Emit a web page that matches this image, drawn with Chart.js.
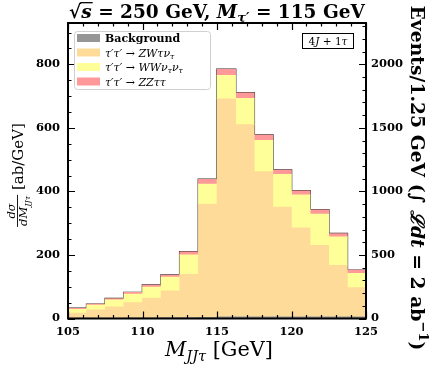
<!DOCTYPE html>
<html>
<head>
<meta charset="utf-8">
<script src="https://cdn.jsdelivr.net/npm/chart.js@4.4.0/dist/chart.umd.min.js"></script>
<style>
  html, body { margin: 0; padding: 0; background: #fff; }
</style>
</head>
<body>
<canvas id="chart" width="436" height="367"></canvas>
<script>
// bin edges of M_JJtau [GeV], 1.25 GeV bins
const binEdges = [105, 106.25, 107.5, 108.75, 110, 111.25, 112.5, 113.75, 115,
                  116.25, 117.5, 118.75, 120, 121.25, 122.5, 123.75, 125]

// dsigma/dM [ab/GeV], stacked bottom to top
const background = [1, 1, 1, 2, 2, 3, 3, 4, 5, 5, 5, 5, 5, 5, 5, 5]
const zwTauNu    = [16, 26, 36, 48, 62, 84, 136, 356, 686, 605, 457, 346, 280, 225, 162, 92]
const wwNuNu     = [12, 15, 22, 27, 35, 43, 61, 63, 74, 83, 99, 103, 104, 99, 90, 45]
const zzTauTau   = [3, 3, 4, 5, 6, 7, 10, 15, 19, 17, 16, 13, 13, 13, 10, 10]

const xTicks = [105, 110, 115, 120, 125]
const yTicks = [0, 200, 400, 600, 800]
const eventTicks = [0, 500, 1000, 1500, 2000]
const yMax = 930
const eventsPerAb = 2.5   // 2 ab^-1 * 1.25 GeV

const WIDE = '"DejaVu Serif", serif'
const tickFont = { family: WIDE, size: 11.5, weight: 'bold' }

const centers = binEdges.slice(0, -1).map((e, i) => (e + binEdges[i + 1]) / 2)
const asPoints = arr => arr.map((v, i) => ({ x: centers[i], y: v }))
const totals = background.map((b, i) => b + zwTauNu[i] + wwNuNu[i] + zzTauTau[i])
const outline = binEdges.map((e, i) => ({ x: e, y: totals[Math.min(i, totals.length - 1)] }))

// ---- small helper to draw text runs with sub/superscripts ----
function runFont(r, size, fam) {
  const s = (r.sub || r.sup) ? size * 0.7 : size
  return (r.i ? 'italic ' : '') + (r.b ? 'bold ' : '') + s.toFixed(2) + 'px ' + fam
}
function runsWidth(ctx, runs, size, fam) {
  let w = 0
  runs.forEach(r => { ctx.font = runFont(r, size, fam); w += ctx.measureText(r.t).width })
  return w
}
function drawRuns(ctx, runs, x, y, size, align, fam) {
  const w = runsWidth(ctx, runs, size, fam)
  let cx = align === 'center' ? x - w / 2 : align === 'right' ? x - w : x
  ctx.textAlign = 'left'
  ctx.textBaseline = 'alphabetic'
  runs.forEach(r => {
    ctx.font = runFont(r, size, fam)
    const dy = r.sub ? size * 0.22 : r.sup ? -size * 0.42 : 0
    const rw = ctx.measureText(r.t).width
    ctx.fillText(r.t, cx, y + dy)
    if (r.over) {
      ctx.lineWidth = size * 0.07
      ctx.beginPath()
      ctx.moveTo(cx - 1, y - size * 0.8)
      ctx.lineTo(cx + rw + 1, y - size * 0.8)
      ctx.stroke()
    }
    cx += rw
  })
  return w
}
function fitSize(ctx, runs, base, width, fam) {
  return base * width / runsWidth(ctx, runs, base, fam)
}

const titleRuns = [
  { t: '√', b: 1 }, { t: 's', b: 1, i: 1, over: 1 }, { t: ' = 250 GeV, ', b: 1 },
  { t: 'M', b: 1, i: 1 }, { t: 'τ′', b: 1, i: 1, sub: 1 }, { t: ' = 115 GeV', b: 1 }
]
const xLabelRuns = [{ t: 'M', i: 1 }, { t: 'JJτ', i: 1, sub: 1 }, { t: ' [GeV]' }]
const rightLabelRuns = [
  { t: 'Events/1.25 GeV (', b: 1 }, { t: '∫ ', b: 1 }, { t: 'ℒdt', b: 1, i: 1 },
  { t: ' = 2 ab', b: 1 }, { t: '−1', b: 1, sup: 1 }, { t: ')', b: 1 }
]
const legendItems = [
  { color: '#969696', runs: [{ t: 'Background', b: 1 }] },
  { color: '#ffdb99', runs: [{ t: "τ′τ′", i: 1 }, { t: ' → ' }, { t: 'ZWτν', i: 1 }, { t: 'τ', i: 1, sub: 1 }] },
  { color: '#ffff99', runs: [{ t: "τ′τ′", i: 1 }, { t: ' → ' }, { t: 'WWν', i: 1 }, { t: 'τ', i: 1, sub: 1 }, { t: 'ν', i: 1 }, { t: 'τ', i: 1, sub: 1 }] },
  { color: '#ff9999', runs: [{ t: "τ′τ′", i: 1 }, { t: ' → ' }, { t: 'ZZττ', i: 1 }] }
]

const decorations = {
  id: 'decorations',
  afterDraw(chart) {
    const { ctx, chartArea: a, scales } = chart
    const x = scales.x, y = scales.y, y2 = scales.y2
    ctx.save()
    ctx.fillStyle = '#000'
    ctx.strokeStyle = '#000'

    // inward ticks on all four sides
    ctx.lineWidth = 1.2
    ctx.beginPath()
    for (let v = 105; v <= 125; v += 1) {
      const px = Math.round(x.getPixelForValue(v)) + 0.5
      const len = v % 5 === 0 ? 7 : 3.5
      ctx.moveTo(px, a.bottom); ctx.lineTo(px, a.bottom - len)
      ctx.moveTo(px, a.top); ctx.lineTo(px, a.top + len)
    }
    for (let v = 0; v <= yMax; v += 50) {
      const py = Math.round(y.getPixelForValue(v)) + 0.5
      const len = v % 200 === 0 ? 7 : 3.5
      ctx.moveTo(a.left, py); ctx.lineTo(a.left + len, py)
    }
    for (let v = 0; v <= yMax * eventsPerAb; v += 100) {
      const py = Math.round(y2.getPixelForValue(v)) + 0.5
      const len = v % 500 === 0 ? 7 : 3.5
      ctx.moveTo(a.right, py); ctx.lineTo(a.right - len, py)
    }
    ctx.stroke()

    // frame
    ctx.lineWidth = 2
    ctx.strokeRect(a.left, a.top, a.right - a.left, a.bottom - a.top)

    // title
    const ts = fitSize(ctx, titleRuns, 16, 296, WIDE)
    drawRuns(ctx, titleRuns, 217, 17.5, ts, 'center', WIDE)

    // x label
    const xs = fitSize(ctx, xLabelRuns, 15, 108, WIDE)
    drawRuns(ctx, xLabelRuns, 219, 356, xs, 'center', WIDE)

    // left y label: fraction + [ab/GeV]
    ctx.save()
    ctx.translate(17, 175)
    ctx.rotate(-Math.PI / 2)
    const fs = 11.5
    const num = [{ t: 'dσ', i: 1 }]
    const den = [{ t: 'dM', i: 1 }, { t: 'JJτ', i: 1, sub: 1 }]
    const unit = [{ t: ' [ab/GeV]' }]
    const fw = Math.max(runsWidth(ctx, num, fs, WIDE), runsWidth(ctx, den, fs, WIDE)) + 2
    const uw = runsWidth(ctx, unit, 15, WIDE)
    const x0 = -(fw + uw) / 2
    drawRuns(ctx, num, x0 + fw / 2, -2.5, fs, 'center', WIDE)
    drawRuns(ctx, den, x0 + fw / 2, 10, fs, 'center', WIDE)
    ctx.lineWidth = 0.9
    ctx.beginPath(); ctx.moveTo(x0, 0.5); ctx.lineTo(x0 + fw, 0.5); ctx.stroke()
    drawRuns(ctx, unit, x0 + fw, 5.5, 15, 'left', WIDE)
    ctx.restore()

    // right y label
    ctx.save()
    ctx.translate(411, 178)
    ctx.rotate(Math.PI / 2)
    const rs = fitSize(ctx, rightLabelRuns, 15, 344, WIDE)
    drawRuns(ctx, rightLabelRuns, 0, 0, rs, 'center', WIDE)
    ctx.restore()

    // legend
    ctx.fillStyle = 'rgba(255,255,255,0.85)'
    ctx.strokeStyle = '#d0d0d0'
    ctx.lineWidth = 1
    ctx.beginPath()
    ctx.roundRect(74.5, 31.5, 136, 58, 3)
    ctx.fill(); ctx.stroke()
    legendItems.forEach((it, k) => {
      const cy = 38 + k * 14.5
      ctx.fillStyle = it.color
      ctx.fillRect(77, cy - 4, 23, 8)
      ctx.fillStyle = '#000'
      drawRuns(ctx, it.runs, 105, cy + 4, 11, 'left', WIDE)
    })

    // channel box
    const chRuns = [{ t: '4' }, { t: 'J', i: 1 }, { t: ' + 1' }, { t: 'τ', i: 1 }]
    ctx.fillStyle = '#fff'
    ctx.strokeStyle = '#000'
    ctx.lineWidth = 1
    ctx.fillRect(302.5, 33.5, 51, 15)
    ctx.strokeRect(302.5, 33.5, 51, 15)
    ctx.fillStyle = '#000'
    drawRuns(ctx, chRuns, 328, 45, 10.5, 'center', WIDE)

    ctx.restore()
  }
}

const barDefaults = { type: 'bar', stack: 'sm', borderWidth: 0, barPercentage: 1, categoryPercentage: 1, yAxisID: 'y' }

new Chart(document.getElementById('chart'), {
  data: {
    datasets: [
      { ...barDefaults, label: 'Background', data: asPoints(background), backgroundColor: '#969696' },
      { ...barDefaults, label: 'ZW', data: asPoints(zwTauNu), backgroundColor: '#ffdb99' },
      { ...barDefaults, label: 'WW', data: asPoints(wwNuNu), backgroundColor: '#ffff99' },
      { ...barDefaults, label: 'ZZ', data: asPoints(zzTauTau), backgroundColor: '#ff9999' },
      {
        type: 'line', label: 'total', stack: 'outline', yAxisID: 'y',
        data: outline, stepped: 'before', borderColor: '#2a2a2a', borderWidth: 1.6,
        pointRadius: 0, fill: false
      }
    ]
  },
  options: {
    responsive: false,
    animation: false,
    devicePixelRatio: 1,
    layout: { padding: { top: 23, left: 0, right: 0, bottom: 0 } },
    plugins: { legend: { display: false }, tooltip: { enabled: false } },
    scales: {
      x: {
        type: 'linear', min: 105, max: 125, stacked: true, offset: false,
        afterBuildTicks: s => { s.ticks = xTicks.map(v => ({ value: v })) },
        afterFit: s => { s.height = 48.5 },
        grid: { display: false, drawTicks: false, offset: false },
        border: { display: false },
        ticks: { color: '#000', padding: 7, maxRotation: 0, font: tickFont }
      },
      y: {
        position: 'left', min: 0, max: yMax, stacked: true,
        afterBuildTicks: s => { s.ticks = yTicks.map(v => ({ value: v })) },
        afterFit: s => { s.width = 68 },
        grid: { display: false, drawTicks: false },
        border: { display: false },
        ticks: { color: '#000', padding: 8, font: tickFont }
      },
      y2: {
        position: 'right', min: 0, max: yMax * eventsPerAb,
        afterBuildTicks: s => { s.ticks = eventTicks.map(v => ({ value: v })) },
        afterFit: s => { s.width = 70 },
        grid: { display: false, drawTicks: false },
        border: { display: false },
        ticks: { color: '#000', padding: 5, font: tickFont }
      }
    }
  },
  plugins: [decorations]
})
</script>
</body>
</html>
